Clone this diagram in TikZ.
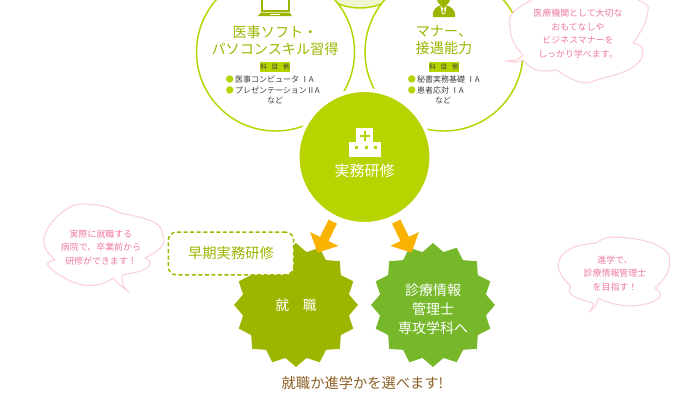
\documentclass[tikz,border=0pt]{standalone}
\usepackage{fontspec}
\setmainfont{Noto Sans CJK JP}
\usetikzlibrary{arrows.meta,shapes.geometric}
\definecolor{limec}{HTML}{B7D300}
\definecolor{olivec}{HTML}{9EB500}
\definecolor{leafc}{HTML}{76B82A}
\definecolor{palec}{HTML}{EFF6D2}
\definecolor{orangec}{HTML}{F9B200}
\definecolor{pinkc}{HTML}{FAD2D7}
\definecolor{pinktextc}{HTML}{EE7BA0}
\definecolor{brownc}{HTML}{8C5F24}
\tikzset{
  course/.style={circle,draw=limec,fill=white,line width=1.1pt,minimum size=118.5pt,inner sep=0pt},
  burst/.style={star,star points=16,star point ratio=1.15,minimum size=93pt,inner sep=0pt,outer sep=0pt},
  pick/.style={draw=orangec,line width=7pt,shorten <=2.25pt,-{Triangle[width=23pt,length=11.5pt]}},
  bubble/.style={draw=pinkc,fill=white,line width=0.8pt,line join=round},
  bubbletext/.style={text=pinktextc,align=center,font=\fontsize{6.7}{10.1}\selectfont},
  titletext/.style={text=olivec,align=center,font=\fontsize{10.6}{12.75}\selectfont},
  subjecttag/.style={fill=limec,text=black!75,inner sep=0pt,minimum width=23pt,minimum height=6.8pt,font=\fontsize{5}{6}\selectfont},
  subjecttext/.style={text=black!75,anchor=west,inner sep=0pt,font=\fontsize{6}{7.5}\selectfont},
  whitetext/.style={text=white,align=center,font=\fontsize{10.5}{14.25}\selectfont}
}
\newcommand{\dotmark}{\textcolor{limec}{●}\,}
\newcommand{\tagtext}{科\hspace{3.5pt}目\hspace{3.5pt}例}
\begin{document}
\begin{tikzpicture}[x=0.75pt,y=0.75pt,yscale=-1]
\useasboundingbox (0,0) rectangle (700,408);
\clip (0,0) rectangle (700,408);

%Shape: Circle
\draw [draw=limec,fill=palec,line width=1.1pt] (360,-50) circle (58);
\node [course] (softcircle) at (275.5,52) {};
\node [course] (mannercircle) at (444,52) {};

%Shape: Laptop
\draw [draw=olivec,line width=1.1pt] (262,-3) rectangle (289,11);
\fill [olivec] (261,12.5) -- (289.5,12.5) -- (292,16) -- (258,16) -- cycle;
\fill [white] (270,14) rectangle (280,15);

%Shape: Person
\fill [olivec] (443.5,-1) circle (6.5);
\fill [olivec] (433,17) .. controls (432,9) and (437,6.5) .. (441,5) -- (446,5) .. controls (450,6.5) and (456,9) .. (455,17) -- cycle;
\fill [white] (440.5,5.5) -- (443.5,9) -- (446.5,5.5) -- (445,14) -- (442,14) -- cycle;
\fill [olivec] (442.8,8.5) -- (444.2,8.5) -- (444.6,13) -- (442.4,13) -- cycle;

% Text Node
\node [titletext] (softtitle) at (275,40.5) {医事ソフト・\\パソコンスキル習得};
\node [titletext] (mannertitle) at (444,40.5) {マナー、\\接遇能力};
\node [subjecttag] (softtag) at (275,67) {\tagtext};
\node [subjecttag] (mannertag) at (444,67) {\tagtext};
\node [subjecttext] (softa) at (225.5,79) {\dotmark 医事コンピュータ ⅠA};
\node [subjecttext] (softb) at (225.5,90) {\dotmark プレゼンテーションⅡA};
\node [subjecttext,anchor=center] (softc) at (275,100.5) {など};
\node [subjecttext] (mannera) at (407.5,79) {\dotmark 秘書実務基礎 ⅠA};
\node [subjecttext] (mannerb) at (407.5,90) {\dotmark 患者応対 ⅠA};
\node [subjecttext,anchor=center] (mannerc) at (443,100.5) {など};

%Shape: Star
\node [burst,fill=olivec] (job) at (296,305) {};
\node [burst,fill=leafc] (school) at (433,305) {};
%Shape: Circle
\node [circle,fill=limec,draw=white,line width=3pt,minimum size=100.5pt,inner sep=0pt] (training) at (364.5,157) {};

%Straight Lines
\coordinate (jobtip) at (317.5,252.7);
\coordinate (schooltip) at (411.5,252.7);
\draw [pick] (training) -- (jobtip);
\draw [pick] (training) -- (schooltip);

%Shape: Hospital
\fill [white] (356,128) rectangle (373,142);
\fill [white] (349,142) rectangle (381,157);
\fill [limec] (363.7,131) rectangle (366.3,141);
\fill [limec] (360,134.7) rectangle (370,137.3);
\foreach \winx in {355.3,364.7,374} {
  \fill [limec] (\winx,145.7) rectangle ++(3,3);
}

% Text Node
\node [whitetext,font=\fontsize{11.25}{14}\selectfont] (trainingtext) at (364.5,171) {実務研修};
\node [whitetext,font=\fontsize{10.3}{14}\selectfont] (jobtext) at (296,305) {就　職};
\node [whitetext] (schooltext) at (433,309) {診療情報\\管理士\\専攻学科へ};

%Shape: Rectangle
\node [draw=olivec!90!limec,dash pattern={on 3pt off 1.9pt},line width=1.1pt,fill=white,rounded corners=6pt,minimum width=94pt,minimum height=32pt,inner sep=0pt,text=olivec,font=\fontsize{10.7}{13}\selectfont] (earlybox) at (231,253.5) {早期実務研修};

%Shape: Bubble
\draw [bubble] plot [smooth,tension=0.8] coordinates {(505.7,60.7) (516,60) (523,55)}
  -- plot [smooth,tension=0.8] coordinates {(523,55) (510.7,33) (520,7) (580,-14) (638,0) (646.7,17) (633,43)}
  -- plot [smooth,tension=0.8] coordinates {(633,43) (643,50) (633,67) (600,79) (580,82) (557,70)}
  -- plot [smooth,tension=0.8] coordinates {(557,70) (536.7,70) (523,60)}
  -- plot [smooth,tension=0.8] coordinates {(523,60) (515,62) (505.7,60.7)} -- cycle;
\draw [bubble] plot [smooth,tension=0.8] coordinates {(129,291.7) (123,285) (122.3,275)}
  -- plot [smooth,tension=0.8] coordinates {(122.3,275) (143,270) (150,263) (145,258)}
  -- plot [smooth,tension=0.8] coordinates {(145,258) (161,247) (162.7,235) (153,221.7) (120,213)}
  -- plot [smooth,tension=0.8] coordinates {(120,213) (96.7,205) (66.7,209) (44,238) (55,260)}
  -- plot [smooth,tension=0.8] coordinates {(55,260) (48.5,266) (73,282) (96.7,285) (113,278)}
  -- plot [smooth,tension=0.8] coordinates {(113,278) (120,285) (129,291.7)} -- cycle;
\draw [bubble] plot [smooth,tension=0.8] coordinates {(589,312.3) (595,306) (598.3,298.3)}
  -- plot [smooth,tension=0.8] coordinates {(598.3,298.3) (620,305) (643,304.5) (660,296.7) (655,288)}
  -- plot [smooth,tension=0.8] coordinates {(655,288) (669,268) (660,246.7) (616.7,237) (596.7,243)}
  -- plot [smooth,tension=0.8] coordinates {(596.7,243) (570,249) (558.3,266.7) (570.7,286)}
  -- plot [smooth,tension=0.8] coordinates {(570.7,286) (571.7,295) (593,303)}
  -- plot [smooth,tension=0.8] coordinates {(593,303) (592,308) (589,312.3)} -- cycle;

% Text Node
\node [bubbletext] (mannertalk) at (578,33.5) {医療機関として大切な\\おもてなしや\\ビジネスマナーを\\しっかり学べます。};
\node [bubbletext] (trainingtalk) at (101,247.5) {実際に就職する\\病院で、卒業前から\\研修ができます！};
\node [bubbletext] (schooltalk) at (615,273.5) {進学で、\\診療情報管理士\\を目指す！};
\node [text=brownc,font=\fontsize{10.7}{13}\selectfont] (choicetext) at (362.5,383) {就職か進学かを選べます!};

\end{tikzpicture}
\end{document}
